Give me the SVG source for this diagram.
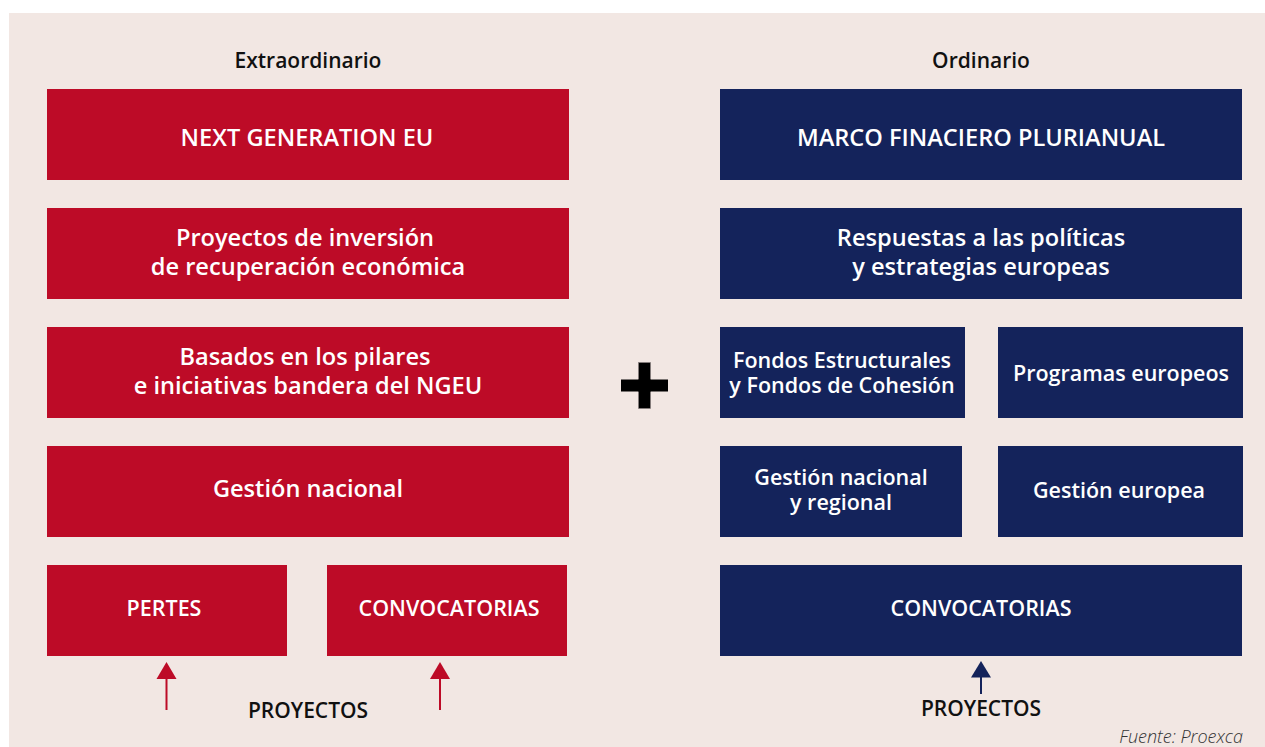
<svg xmlns="http://www.w3.org/2000/svg" width="1265" height="747" viewBox="0 0 1265 747">
<defs>
<style>
.red{fill:#BD0B27}
.blue{fill:#14235B}
.t{font-family:"Open Sans","Noto Sans","Liberation Sans",sans-serif;font-weight:600;fill:#FFFFFF;text-anchor:middle;font-size:23.6px}
.ts{font-size:21.5px}
.h{font-family:"Open Sans","Noto Sans","Liberation Sans",sans-serif;font-weight:600;fill:#111111;text-anchor:middle;font-size:21px}
</style>
</defs>
<rect x="0" y="0" width="1265" height="747" fill="#FFFFFF"/>
<rect x="9" y="13" width="1256" height="734" fill="#F2E7E3"/>
<text class="h" x="308" y="68">Extraordinario</text>
<text class="h" x="981" y="68">Ordinario</text>

<g id="ngeu"><rect class="red" x="47" y="89" width="522" height="91"/><text class="t" x="307" y="146">NEXT GENERATION EU</text></g>
<g id="proyectos-inversion"><rect class="red" x="47" y="208" width="522" height="91"/><text class="t" x="305" y="246">Proyectos de inversión</text><text class="t" x="308" y="275">de recuperación económica</text></g>
<g id="basados"><rect class="red" x="47" y="327" width="522" height="91"/><text class="t" x="305" y="365">Basados en los pilares</text><text class="t" x="308" y="394">e iniciativas bandera del NGEU</text></g>
<g id="gestion-nacional"><rect class="red" x="47" y="446" width="522" height="91"/><text class="t" x="308" y="497">Gestión nacional</text></g>
<g id="pertes"><rect class="red" x="47" y="565" width="240" height="91"/><text class="t ts" x="164" y="616">PERTES</text></g>
<g id="convocatorias-ext"><rect class="red" x="327" y="565" width="240" height="91"/><text class="t ts" x="449" y="616">CONVOCATORIAS</text></g>

<g id="mfp"><rect class="blue" x="720" y="89" width="522" height="91"/><text class="t" x="981" y="146">MARCO FINACIERO PLURIANUAL</text></g>
<g id="respuestas"><rect class="blue" x="720" y="208" width="522" height="91"/><text class="t" x="981" y="246">Respuestas a las políticas</text><text class="t" x="981" y="275">y estrategias europeas</text></g>
<g id="fondos"><rect class="blue" x="720" y="327" width="245" height="91"/><text class="t ts" x="842" y="368">Fondos Estructurales</text><text class="t ts" x="842" y="393">y Fondos de Cohesión</text></g>
<g id="programas"><rect class="blue" x="998" y="327" width="245" height="91"/><text class="t ts" x="1121" y="381">Programas europeos</text></g>
<g id="gestion-nac-reg"><rect class="blue" x="720" y="446" width="242" height="91"/><text class="t ts" x="841" y="485">Gestión nacional</text><text class="t ts" x="841" y="510">y regional</text></g>
<g id="gestion-europea"><rect class="blue" x="998" y="446" width="245" height="91"/><text class="t ts" x="1119" y="498">Gestión europea</text></g>
<g id="convocatorias-ord"><rect class="blue" x="720" y="565" width="522" height="91"/><text class="t ts" x="981" y="616">CONVOCATORIAS</text></g>

<g id="plus"><rect x="638.5" y="362.5" width="12" height="46" fill="#000" stroke="#8a8080" stroke-width="0.6"/><rect x="621" y="379.5" width="47" height="12" fill="#000"/><rect x="638.5" y="379.5" width="12" height="12" fill="#000"/></g>

<g id="connectors">
<line x1="166.5" y1="710" x2="166.5" y2="676" stroke="#BD0B27" stroke-width="2"/>
<path d="M166.5,662 L176.5,679 L156.5,679 Z" fill="#BD0B27"/>
<line x1="440" y1="710" x2="440" y2="676" stroke="#BD0B27" stroke-width="2"/>
<path d="M440,662 L450,679 L430,679 Z" fill="#BD0B27"/>
<line x1="981" y1="694" x2="981" y2="676" stroke="#14235B" stroke-width="2"/>
<path d="M981,661 L991,677.5 L971,677.5 Z" fill="#14235B"/>
</g>

<text class="h" x="308" y="718">PROYECTOS</text>
<text class="h" x="981" y="716">PROYECTOS</text>
<text x="1243" y="743" font-family="'Open Sans','Noto Sans','Liberation Sans',sans-serif" font-style="italic" font-weight="300" font-size="18" fill="#333" text-anchor="end">Fuente: Proexca</text>
</svg>
